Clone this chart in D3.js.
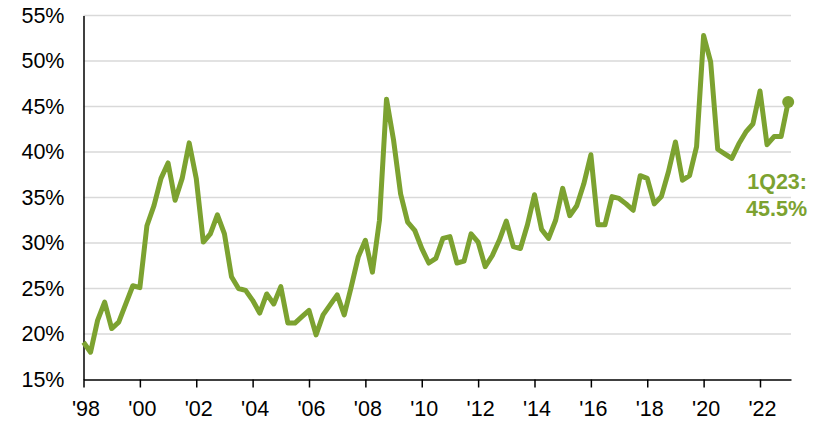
<!DOCTYPE html>
<html>
<head>
<meta charset="utf-8">
<script src="https://cdn.jsdelivr.net/npm/d3@7"></script>
<style>
  html, body { margin: 0; padding: 0; background: #ffffff; }
  svg { display: block; font-family: "Liberation Sans", Arial, sans-serif; }
</style>
</head>
<body>
<svg id="chart" width="829" height="421"></svg>
<script>
// Quarterly values, 1Q98 .. 1Q23 (percent)
const startYear = 1998;
const values = [
  19.1, 18.0, 21.5, 23.5,   // 1998
  20.6, 21.3, 23.3, 25.3,   // 1999
  25.1, 31.9, 34.1, 37.1,   // 2000
  38.8, 34.7, 37.1, 41.0,   // 2001
  37.1, 30.1, 31.0, 33.1,   // 2002
  31.0, 26.3, 25.0, 24.8,   // 2003
  23.7, 22.3, 24.4, 23.3,   // 2004
  25.2, 21.2, 21.2, 21.9,   // 2005
  22.6, 19.9, 22.1, 23.2,   // 2006
  24.3, 22.1, 25.2, 28.5,   // 2007
  30.3, 26.8, 32.5, 45.8,   // 2008
  41.3, 35.4, 32.3, 31.4,   // 2009
  29.4, 27.8, 28.3, 30.5,   // 2010
  30.7, 27.8, 28.0, 31.0,   // 2011
  30.1, 27.4, 28.6, 30.3,   // 2012
  32.4, 29.6, 29.4, 32.0,   // 2013
  35.3, 31.5, 30.5, 32.5,   // 2014
  36.0, 33.0, 34.1, 36.5,   // 2015
  39.7, 32.0, 32.0, 35.1,   // 2016
  34.9, 34.3, 33.6, 37.4,   // 2017
  37.1, 34.3, 35.1, 37.8,   // 2018
  41.1, 36.9, 37.4, 40.6,   // 2019
  52.8, 49.9, 40.3, 39.8,   // 2020
  39.3, 40.9, 42.2, 43.1,   // 2021
  46.7, 40.8, 41.7, 41.7,   // 2022
  45.5                      // 2023
];
const xTickYears = [1998, 2000, 2002, 2004, 2006, 2008, 2010, 2012, 2014, 2016, 2018, 2020, 2022];
const xTickLabels = ["'98", "'00", "'02", "'04", "'06", "'08", "'10", "'12", "'14", "'16", "'18", "'20", "'22"];
const yTicks = [15, 20, 25, 30, 35, 40, 45, 50, 55];
const annotationLines = ["1Q23:", "45.5%"];

const green = "#7ca230";
const data = values.map((v, i) => ({ t: startYear + i / 4, v }));

const svg = d3.select("#chart");
const x = d3.scaleLinear().domain([1998, 2023.1]).range([83.5, 791]);
const y = d3.scaleLinear().domain([15, 55]).range([379.5, 15.5]);

// gridlines
svg.append("g")
  .selectAll("line")
  .data(yTicks.filter(d => d > 15))
  .join("line")
  .attr("x1", x(1998)).attr("x2", x(2023.1))
  .attr("y1", d => y(d)).attr("y2", d => y(d))
  .attr("stroke", "#d9d9d9").attr("stroke-width", 1.5);

// y axis
const yAxis = svg.append("g")
  .attr("transform", `translate(${x(1998)},0)`)
  .call(d3.axisLeft(y).tickValues(yTicks).tickSize(0).tickPadding(19).tickFormat(d => d + "%"));
yAxis.select(".domain").attr("stroke", "#000").attr("stroke-width", 1.5);
yAxis.selectAll("text").attr("font-size", 21.5).attr("fill", "#000")
  .attr("font-family", "'Liberation Sans', Arial, sans-serif");

// x axis
const xAxis = svg.append("g")
  .attr("transform", `translate(0,${y(15)})`)
  .call(d3.axisBottom(x).tickValues(xTickYears).tickSizeInner(8).tickSizeOuter(0).tickPadding(13)
    .tickFormat((d, i) => xTickLabels[i]));
xAxis.select(".domain").attr("stroke", "#000").attr("stroke-width", 1.5);
xAxis.selectAll(".tick line").attr("stroke", "#000").attr("stroke-width", 1.5);
xAxis.selectAll("text").attr("font-size", 21.5).attr("fill", "#000").attr("dx", 2)
  .attr("font-family", "'Liberation Sans', Arial, sans-serif");

// line
const line = d3.line().x(d => x(d.t)).y(d => y(d.v));
svg.append("path")
  .datum(data)
  .attr("d", line)
  .attr("fill", "none")
  .attr("stroke", green)
  .attr("stroke-width", 5)
  .attr("stroke-linejoin", "round")
  .attr("stroke-linecap", "butt");

// end dot
const last = data[data.length - 1];
svg.append("circle")
  .attr("cx", x(last.t)).attr("cy", y(last.v)).attr("r", 6)
  .attr("fill", green);

// annotation
const ann = svg.append("text")
  .attr("text-anchor", "end")
  .attr("font-size", 21.5)
  .attr("font-weight", "bold")
  .attr("fill", green);
ann.selectAll("tspan")
  .data(annotationLines)
  .join("tspan")
  .attr("x", 807)
  .attr("y", (d, i) => y(last.v) + 87 + i * 27)
  .text(d => d);
</script>
</body>
</html>
